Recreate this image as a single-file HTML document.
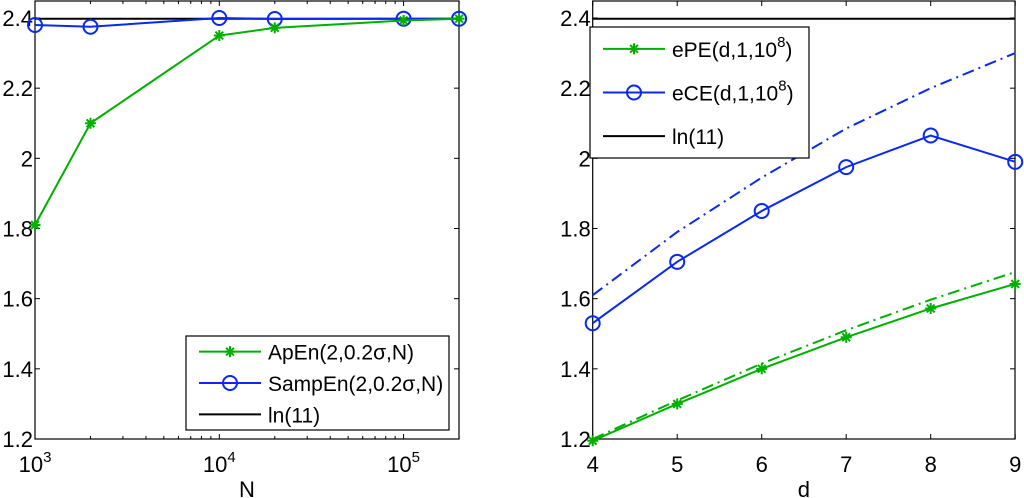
<!DOCTYPE html>
<html><head><meta charset="utf-8"><style>
body{margin:0;background:#fff;}
svg{display:block;font-family:"Liberation Sans",sans-serif;}
</style></head><body>
<svg id="c" width="1024" height="498" viewBox="0 0 1024 498"></svg>
<script>
const NS="http://www.w3.org/2000/svg";
const svg=document.getElementById('c');
const yTicks=[1.2,1.4,1.6,1.8,2,2.2,2.4];
const yTickLabels=["1.2","1.4","1.6","1.8","2","2.2","2.4"];
const leftN=[1000,2000,10000,20000,100000,200000];
const apEn=[1.81,2.10,2.35,2.372,2.393,2.398];
const sampEn=[2.38,2.375,2.40,2.397,2.398,2.398];
const lnRef=2.3979;
const rightD=[4,5,6,7,8,9];
const ePE=[1.195,1.30,1.40,1.49,1.572,1.642];
const ePEtheory=[1.2,1.31,1.415,1.51,1.597,1.676];
const eCE=[1.53,1.705,1.85,1.975,2.065,1.99];
const eCEtheory=[1.61,1.79,1.945,2.085,2.2,2.30];
const xTicksL=[3,4,5];
const xTicksR=[4,5,6,7,8,9];

function el(t,a,p){const e=document.createElementNS(NS,t);for(const k in a)e.setAttribute(k,a[k]);(p||svg).appendChild(e);return e;}
const yS=v=>439-(v-1.2)*(421/1.2);
const xL=n=>35+(Math.log10(n)-3)*184.3;
const xR=d=>592.7+(d-4)*84.5;

function axes(name,x0,x1,xt,xf,xlab,lbl){
  const g=el('g',{});
  
  
  el('rect',{x:x0,y:1,width:x1-x0,height:438,fill:'#fff',stroke:'#000','stroke-width':1.2},g);
  yTicks.forEach((v,i)=>{const y=yS(v);
    el('line',{x1:x0,x2:x0+5,y1:y,y2:y,stroke:'#000'},g);
    el('line',{x1:x1-5,x2:x1,y1:y,y2:y,stroke:'#000'},g);
    const t=el('text',{x:x0-2,y:y+8,'text-anchor':'end','font-size':22},g);t.textContent=yTickLabels[i];
    });
  xt.forEach(v=>{const x=xf(v);
    el('line',{x1:x,x2:x,y1:439,y2:434,stroke:'#000'},g);
    el('line',{x1:x,x2:x,y1:1,y2:6,stroke:'#000'},g);
    const t=el('text',{x:x,y:472,'text-anchor':'middle','font-size':22},g);
    
    lbl(t,v);});
  const t=el('text',{x:(x0+x1)/2,y:497,'text-anchor':'middle','font-size':22},g);t.textContent=xlab;
  
}
axes('left-axes',35,459,xTicksL,e=>xL(Math.pow(10,e)),'N',(t,e)=>{t.textContent='10';const s=el('tspan',{dy:-10,'font-size':15},t);s.textContent=e;});
for(let d=3;d<=5;d++)for(let m=2;m<=9;m++){const n=m*Math.pow(10,d);if(n>200000)break;const x=xL(n);
 el('line',{x1:x,x2:x,y1:439,y2:436,stroke:'#000'});el('line',{x1:x,x2:x,y1:1,y2:4,stroke:'#000'});}
axes('right-axes',592.7,1015,xTicksR,xR,'d',(t,v)=>{t.textContent=v;});

function star(g,x,y,c){for(let a=0;a<4;a++){const an=a*Math.PI/4;el('line',{x1:x-5.5*Math.cos(an),y1:y-5.5*Math.sin(an),x2:x+5.5*Math.cos(an),y2:y+5.5*Math.sin(an),stroke:c,'stroke-width':2},g);}}
function series(name,xs,ys,xf,c,mk,dash){
  const g=el('g',{});
  
  
  el('polyline',{points:xs.map((x,i)=>xf(x)+','+yS(ys[i])).join(' '),fill:'none',stroke:c,'stroke-width':2,'stroke-dasharray':dash||'none'},g);
  xs.forEach((x,i)=>{if(mk==='o')el('circle',{cx:xf(x),cy:yS(ys[i]),r:7,fill:'none',stroke:c,'stroke-width':2},g);else if(mk==='*')star(g,xf(x),yS(ys[i]),c);});
}
const G='#00b000',B='#0a28f0';
series('ln11-line-left',[1000,200000],[lnRef,lnRef],xL,'#000');
series('sampen-series',leftN,sampEn,xL,B,'o');
series('apen-series',leftN,apEn,xL,G,'*');
series('ln11-line-right',[4,9],[lnRef,lnRef],xR,'#000');
series('ece-theory-series',rightD,eCEtheory,xR,B,null,'12 5 2 5');
series('epe-theory-series',rightD,ePEtheory,xR,G,null,'12 5 2 5');
series('ece-series',rightD,eCE,xR,B,'o');
series('epe-series',rightD,ePE,xR,G,'*');

function legend(name,x,y,w,h,items){
  const g=el('g',{});
  
  
  el('rect',{x:x,y:y,width:w,height:h,fill:'#fff',stroke:'#000','stroke-width':1.2},g);
  items.forEach((it,i)=>{const yy=y+h/(items.length*2)+i*h/items.length;
    const e=el('g',{},g);
    
    
    el('line',{x1:x+13,x2:x+75,y1:yy,y2:yy,stroke:it.c,'stroke-width':2},e);
    if(it.m==='o')el('circle',{cx:x+44,cy:yy,r:7,fill:'none',stroke:it.c,'stroke-width':2},e);
    if(it.m==='*')star(e,x+44,yy,it.c);
    const t=el('text',{x:x+82,y:yy+8,'font-size':21},e);t.textContent=it.t;
    if(it.sup){const s=el('tspan',{dy:-10,'font-size':15},t);s.textContent=it.sup;const s2=el('tspan',{dy:10},t);s2.textContent=')';}
  });
}
legend('left-legend',186,336,263,94,[{c:G,m:'*',t:'ApEn(2,0.2σ,N)'},{c:B,m:'o',t:'SampEn(2,0.2σ,N)'},{c:'#000',t:'ln(11)'}]);
legend('right-legend',590,27,219,131,[{c:G,m:'*',t:'ePE(d,1,10',sup:'8'},{c:B,m:'o',t:'eCE(d,1,10',sup:'8'},{c:'#000',t:'ln(11)'}]);
</script>
</body></html>
